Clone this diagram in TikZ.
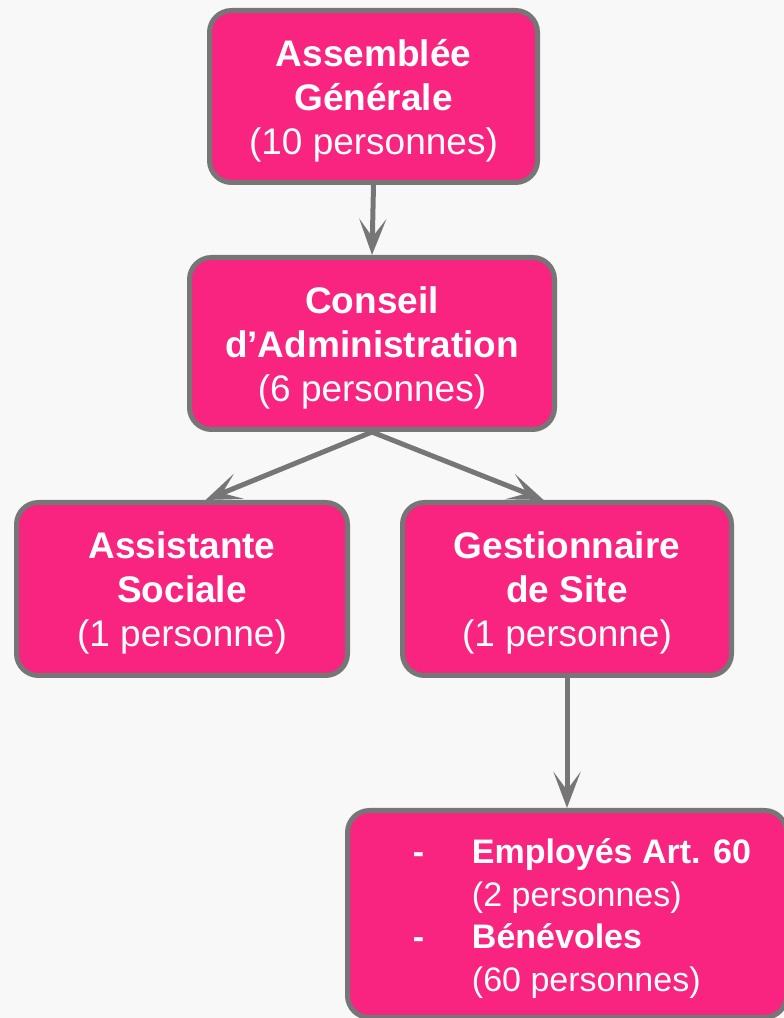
\documentclass[tikz,border=0pt]{standalone}
\usepackage{fontspec}
\setmainfont{Liberation Sans}
\usepackage{xcolor}
\usetikzlibrary{arrows.meta,calc}

\definecolor{orgpink}{RGB}{248,36,128}
\definecolor{orggray}{RGB}{118,118,118}
\definecolor{pagebg}{RGB}{248,248,248}

\begin{document}
\begin{tikzpicture}[x=1pt,y=1pt,
    orgbase/.style={draw=orggray, line width=5pt, fill=orgpink, rounded corners=22pt,
        text=white, align=center, inner sep=0pt, font=\fontsize{37}{44}\selectfont},
    orgbox/.style={orgbase, text height=123pt},
    orgarrow/.style={draw=orggray, line width=5pt,
        -{Stealth[length=36pt,width=27pt,inset=18pt]}}]
    \fill[pagebg] (0,0) rectangle (784,1018);
    \useasboundingbox (0,0) rectangle (784,1018);
    % boxes
    \node[orgbox, minimum width=328pt, minimum height=172pt] (ag) at (373.5,921.5)
        {\textbf{Assemblée}\\\textbf{Générale}\\(10 personnes)};
    \node[orgbox, minimum width=365pt, minimum height=172pt] (ca) at (372,674.5)
        {\textbf{Conseil}\\\textbf{d’Administration}\\(6 personnes)};
    \node[orgbox, minimum width=331pt, minimum height=173pt] (as) at (182,429)
        {\textbf{Assistante}\\\textbf{Sociale}\\(1 personne)};
    \node[orgbox, minimum width=329pt, minimum height=173pt] (gs) at (567,429)
        {\textbf{Gestionnaire}\\\textbf{de Site}\\(1 personne)};
    \node[orgbase, minimum width=439pt, minimum height=207pt,
        font=\fontsize{34}{42.5}\selectfont] (bt) at (567,104)
        {\hspace*{30pt}\raisebox{-5pt}[\height][\depth]{\begin{tabular}{@{}p{59pt}@{}l@{}}
            \textbf{-} & \textbf{Employés Art. 60}\\
              & (2 personnes)\\
            \textbf{-} & \textbf{Bénévoles}\\
              & (60 personnes)
        \end{tabular}}};
    % arrows
    \draw[orgarrow] (ag.south) -- (ca.north);
    \draw[orgarrow] (ca.south) -- ($(as.north west)!0.57!(as.north east)$);
    \draw[orgarrow] (ca.south) -- ($(gs.north west)!0.43!(gs.north east)$);
    \draw[orgarrow] (gs.south) -- (bt.north);
\end{tikzpicture}
\end{document}
